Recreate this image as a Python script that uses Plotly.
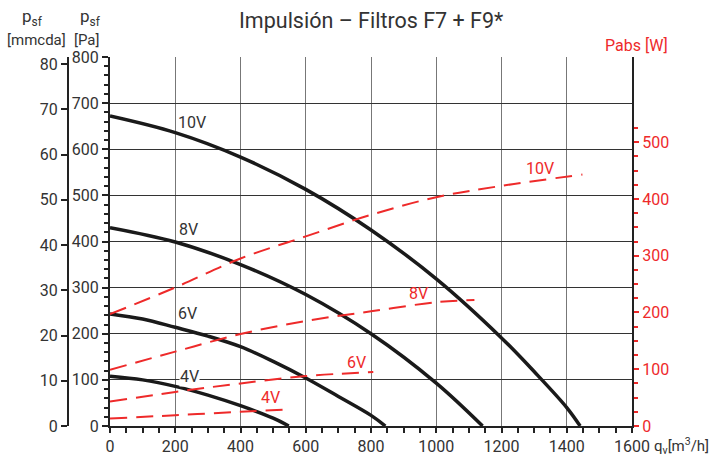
import plotly.graph_objects as go

# Fan curves: static pressure p_sf [Pa] vs airflow q_v [m3/h]
q_10v = [0, 200, 400, 600, 800, 1000, 1200, 1300, 1400, 1441]
p_10v = [672, 636, 583, 513, 425, 319, 191, 118, 40, 0]
q_8v = [0, 200, 400, 600, 800, 1000, 1142]
p_8v = [430, 399, 350, 285, 200, 93, 0]
q_6v = [0, 100, 200, 300, 400, 500, 600, 700, 800, 844]
p_6v = [243, 232, 214, 195, 172, 140, 104, 64, 23, 0]
q_4v = [0, 100, 200, 300, 400, 500, 548]
p_4v = [108, 100, 86, 67, 44, 17, 0]

# Absorbed power Pabs [W] vs airflow
qw_10v = [0, 200, 400, 600, 800, 1000, 1200, 1448]
w_10v = [197, 244, 295, 334, 372, 403, 423, 443]
qw_8v = [0, 200, 400, 600, 800, 1000, 1117]
w_8v = [99, 131, 162, 185, 202, 218, 222]
qw_6v = [0, 200, 400, 600, 807]
w_6v = [43, 60, 75, 88, 95]
qw_4v = [0, 200, 400, 550]
w_4v = [13, 19, 25, 29]

x_ticks = list(range(0, 1601, 200))
pa_ticks = list(range(0, 801, 100))
mmcda_ticks = list(range(0, 81, 10))
w_ticks = list(range(0, 501, 100))

PA_PER_MMCDA = 9.80665
FONT = "Roboto"
TXT = "#333333"
RED = "#ee2a2a"

W, H = 710, 457
ML, MR, MT, MB = 40, 78, 57, 31
PW, PH = W - ML - MR, H - MT - MB


def px(x):
    return (x - ML) / PW


def py(y):
    return (H - MB - y) / PH


fig = go.Figure()

for q, p in [(q_10v, p_10v), (q_8v, p_8v), (q_6v, p_6v), (q_4v, p_4v)]:
    fig.add_trace(go.Scatter(x=q, y=p, mode="lines", xaxis="x", yaxis="y",
                             line=dict(color="#1a1a1a", width=3.5, shape="spline",
                                       smoothing=1.0),
                             hoverinfo="skip", showlegend=False))

for q, w in [(qw_10v, w_10v), (qw_8v, w_8v), (qw_6v, w_6v), (qw_4v, w_4v)]:
    fig.add_trace(go.Scatter(x=q, y=w, mode="lines", xaxis="x", yaxis="y2",
                             line=dict(color=RED, width=2, dash="17px,9px",
                                       shape="spline", smoothing=1.0),
                             hoverinfo="skip", showlegend=False))

# mmcda axis carried by an invisible trace
fig.add_trace(go.Scatter(x=[None], y=[None], xaxis="x", yaxis="y3",
                         showlegend=False, hoverinfo="skip"))

tickfont = dict(family=FONT, size=16, color=TXT)

fig.update_layout(
    width=W, height=H,
    margin=dict(l=ML, r=MR, t=MT, b=MB, autoexpand=False),
    paper_bgcolor="white", plot_bgcolor="white",
    font=dict(family=FONT, color=TXT),
    xaxis=dict(domain=[(110 - ML) / PW, 1], range=[0, 1600], automargin=False,
               tickvals=x_ticks, ticks="outside", ticklen=5, tickwidth=1.5,
               tickcolor="#222", showline=True, linecolor="#222", linewidth=2,
               showgrid=True, gridcolor="#777777", gridwidth=1, zeroline=False,
               tickfont=tickfont,
               minor=dict(dtick=50, tick0=0, ticks="outside", ticklen=5,
                          tickwidth=1.5, tickcolor="#222", showgrid=False)),
    yaxis=dict(range=[0, 800], tickvals=pa_ticks, ticks="outside", ticklen=6,
               automargin=False,
               tickwidth=1.5, tickcolor="#222", showline=True, linecolor="#222",
               linewidth=2, showgrid=True, gridcolor="#333333", gridwidth=1,
               zeroline=False, tickfont=tickfont,
               minor=dict(dtick=20, tick0=0, ticks="outside", ticklen=4,
                          tickwidth=1.5, tickcolor="#222", showgrid=False)),
    yaxis2=dict(range=[0, 650], overlaying="y", side="right", anchor="x",
                automargin=False,
                tickvals=w_ticks, ticks="outside", ticklen=5, tickwidth=1.5,
                tickcolor=RED, showline=True, linecolor="#222", linewidth=2,
                showgrid=False, zeroline=False,
                tickfont=dict(family=FONT, size=16, color=RED),
                minor=dict(tickvals=[v for v in range(25, 526, 25) if v % 100],
                           ticks="outside", ticklen=4, tickwidth=1.5,
                           tickcolor=RED, showgrid=False)),
    yaxis3=dict(range=[0, 800 / PA_PER_MMCDA], overlaying="y", anchor="free",
                side="left", position=px(68), automargin=False,
                tickvals=mmcda_ticks, ticks="outside", ticklen=6, tickwidth=1.5,
                tickcolor="#222", showline=True, linecolor="#222", linewidth=2,
                showgrid=False, zeroline=False, tickfont=tickfont),
)

ann = []
# pressure curve labels
for txt, q, p, bg in [("10V", 252, 659, None), ("8V", 240, 425, None),
                      ("6V", 237, 243, None), ("4V", 243, 108, "white")]:
    a = dict(text=txt, x=q, y=p, xref="x", yref="y", showarrow=False,
             xanchor="center", yanchor="middle",
             font=dict(family=FONT, size=16, color=TXT), borderpad=0)
    if bg:
        a["bgcolor"] = bg
    ann.append(a)
# power curve labels
for txt, q, w in [("10V", 1318, 454), ("8V", 945, 233), ("6V", 756, 111), ("4V", 491, 50)]:
    ann.append(dict(text=txt, x=q, y=w, xref="x", yref="y2", showarrow=False,
                    xanchor="center", yanchor="middle",
                    font=dict(family=FONT, size=16, color=RED)))

# title and axis captions
ann.append(dict(text="Impulsión – Filtros F7 + F9*", x=px(371), y=py(21),
                xref="paper", yref="paper", showarrow=False, xanchor="center",
                yanchor="middle", font=dict(family=FONT, size=21.5, color=TXT)))
ann.append(dict(text="Pabs [W]", x=px(636), y=py(45), xref="paper", yref="paper",
                showarrow=False, xanchor="center", yanchor="middle",
                font=dict(family=FONT, size=16, color=RED)))
ann.append(dict(text="p<sub>sf</sub>", x=px(32), y=py(18), xref="paper", yref="paper",
                showarrow=False, xanchor="center", yanchor="middle",
                font=dict(family=FONT, size=17, color=TXT)))
ann.append(dict(text="p<sub>sf</sub>", x=px(90), y=py(18), xref="paper", yref="paper",
                showarrow=False, xanchor="center", yanchor="middle",
                font=dict(family=FONT, size=17, color=TXT)))
ann.append(dict(text="[mmcda]", x=px(36), y=py(40), xref="paper", yref="paper",
                showarrow=False, xanchor="center", yanchor="middle",
                font=dict(family=FONT, size=15, color=TXT)))
ann.append(dict(text="[Pa]", x=px(87), y=py(40), xref="paper", yref="paper",
                showarrow=False, xanchor="center", yanchor="middle",
                font=dict(family=FONT, size=15, color=TXT)))
ann.append(dict(text="q<sub>v</sub>[m<sup>3</sup>/h]", x=px(652), y=py(446),
                xref="paper", yref="paper", showarrow=False, xanchor="left",
                yanchor="middle", font=dict(family=FONT, size=15, color=TXT)))

fig.update_layout(annotations=ann)
fig.write_html("out.html")
